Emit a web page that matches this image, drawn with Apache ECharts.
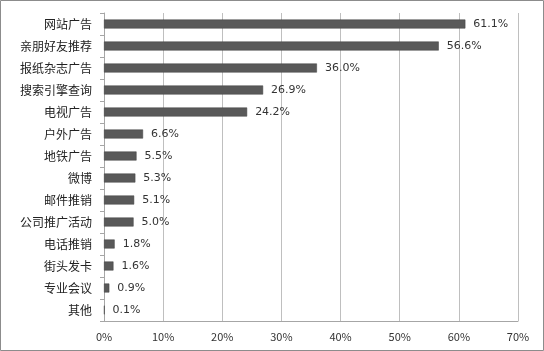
<!DOCTYPE html>
<html>
<head>
<meta charset="utf-8">
<script src="https://cdn.jsdelivr.net/npm/echarts@6/dist/echarts.min.js"></script>
<style>
  html, body { margin: 0; padding: 0; background: #fff; }
  #chart { width: 544px; height: 351px; }
</style>
</head>
<body>
<div id="chart"></div>
<script>
const categories = ["网站广告", "亲朋好友推荐", "报纸杂志广告", "搜索引擎查询", "电视广告", "户外广告", "地铁广告", "微博", "邮件推销", "公司推广活动", "电话推销", "街头发卡", "专业会议", "其他"];
const shares = [61.1, 56.6, 36.0, 26.9, 24.2, 6.6, 5.5, 5.3, 5.1, 5.0, 1.8, 1.6, 0.9, 0.1];

const chart = echarts.init(document.getElementById("chart"));
const font = "'Noto Sans CJK SC', 'DejaVu Sans', sans-serif";

chart.setOption({
  animation: false,
  textStyle: { fontFamily: font },
  graphic: [{
    type: "rect",
    shape: { x: 0.5, y: 0.5, width: 543, height: 350 },
    style: { fill: "none", stroke: "#8c8c8c", lineWidth: 1 },
    silent: true
  }],
  grid: { left: 104, right: 26, top: 13, bottom: 30 },
  xAxis: {
    type: "value",
    min: 0,
    max: 70,
    interval: 10,
    axisLine: { show: true, lineStyle: { color: "#a6a6a6" } },
    axisTick: { show: false },
    splitLine: { lineStyle: { color: "#bfbfbf" } },
    axisLabel: { formatter: "{value}%", color: "#333", fontSize: 11, margin: 10 }
  },
  yAxis: {
    type: "category",
    inverse: true,
    data: categories,
    axisLine: { lineStyle: { color: "#a6a6a6" } },
    axisTick: { show: true, length: 4, lineStyle: { color: "#a6a6a6" } },
    axisLabel: { color: "#222", fontSize: 12, margin: 12 }
  },
  series: [{
    type: "bar",
    data: shares,
    barWidth: 9,
    itemStyle: { color: "#595959", borderColor: "#404040", borderWidth: 0.5 },
    label: {
      show: true,
      position: "right",
      distance: 8,
      formatter: (p) => p.value.toFixed(1) + "%",
      color: "#333",
      fontSize: 11,
      fontFamily: "'DejaVu Sans', sans-serif"
    }
  }]
});
</script>
</body>
</html>
